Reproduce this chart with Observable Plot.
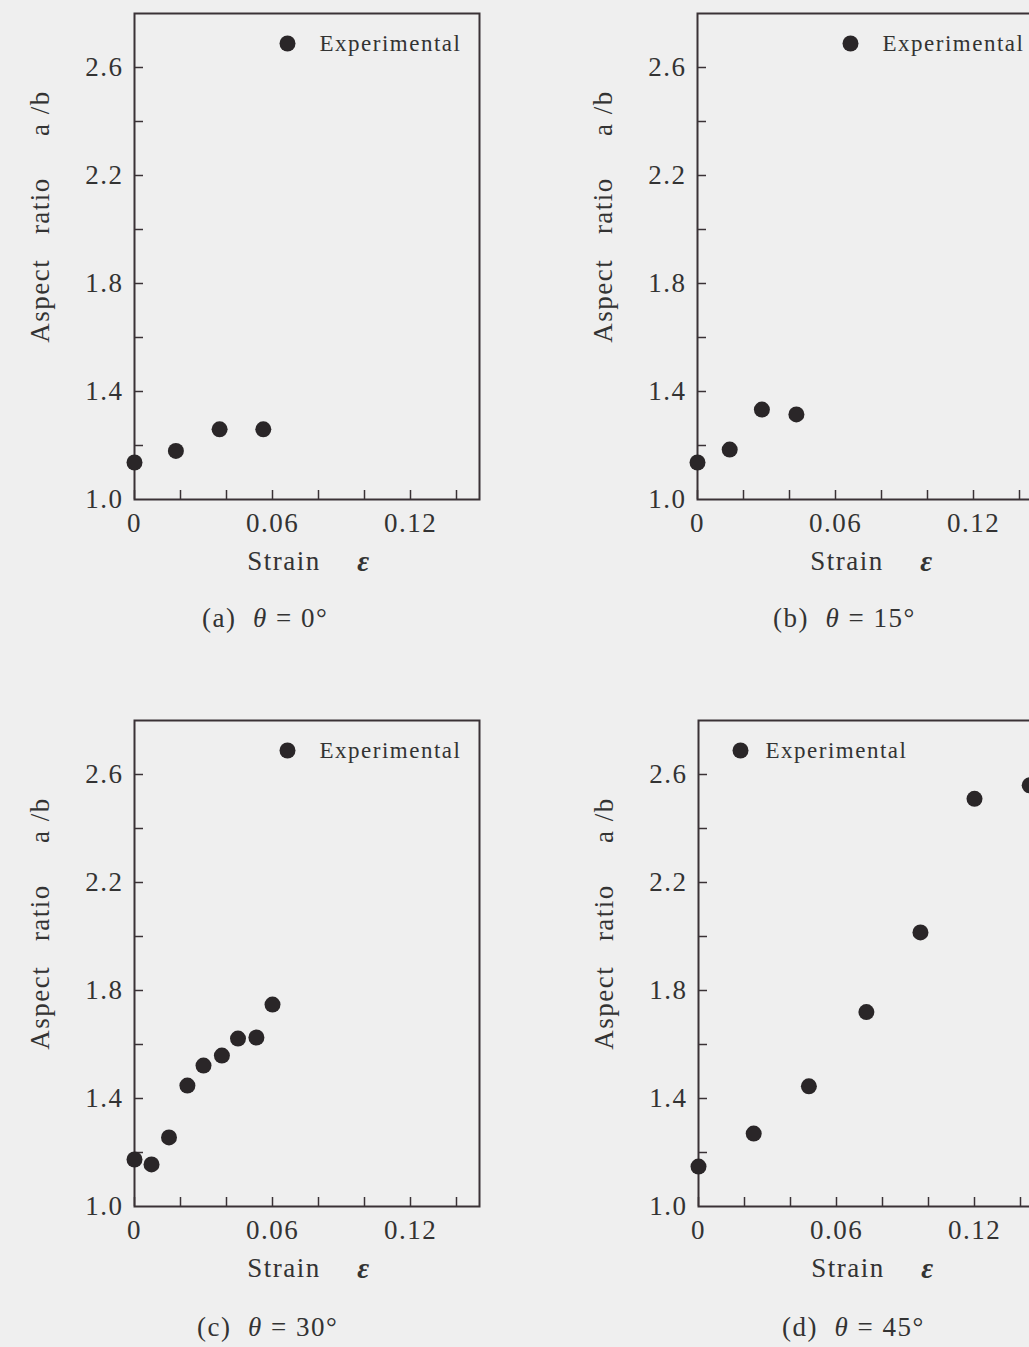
<!DOCTYPE html>
<html><head><meta charset="utf-8">
<script src="https://cdn.jsdelivr.net/npm/d3@7"></script>
<script src="https://cdn.jsdelivr.net/npm/@observablehq/plot@0.6"></script>
<style>
html,body{margin:0;padding:0;background:#efefef;}
#root{position:relative;width:1029px;height:1347px;overflow:hidden;background:#efefef;}
.panel{position:absolute;width:500px;}
.panel svg{overflow:visible;max-width:none !important;}
.cap{position:absolute;font-family:"Liberation Serif",serif;font-size:27px;color:#333;letter-spacing:1.5px;white-space:pre;line-height:1;}
</style></head><body><div id="root"></div>
<script>
// ---- data ----
const xTicks = [0, 0.02, 0.04, 0.06, 0.08, 0.10, 0.12, 0.14];
const xLabels = [0, 0.06, 0.12];
const yTicks = [1.2, 1.4, 1.6, 1.8, 2.0, 2.2, 2.4, 2.6];
const yLabels = [1.0, 1.4, 1.8, 2.2, 2.6];
const panelLetters = ["a", "b", "c", "d"];
const panelAngles = [0, 15, 30, 45];
const strainA = [0, 0.018, 0.037, 0.056];
const ratioA  = [1.137, 1.18, 1.26, 1.26];
const strainB = [0, 0.014, 0.028, 0.043];
const ratioB  = [1.137, 1.185, 1.333, 1.315];
const strainC = [0, 0.0074, 0.015, 0.023, 0.030, 0.038, 0.045, 0.053, 0.060];
const ratioC  = [1.174, 1.156, 1.256, 1.448, 1.522, 1.559, 1.622, 1.626, 1.748];
const strainD = [0, 0.024, 0.048, 0.073, 0.0965, 0.120, 0.144];
const ratioD  = [1.148, 1.27, 1.445, 1.72, 2.015, 2.51, 2.56];
const legendLabel = "Experimental";
const yAxisLabel = "Aspect\u00a0\u00a0\u00a0ratio\u00a0\u00a0\u00a0\u00a0\u00a0a\u00a0/b";
const xAxisLabel = "Strain";
const xAxisSymbol = "ε";

// ---- layout / style ----
const ink = "#3a3236";
const dotFill = "#2a2628";
const textFill = "#333";
const font = "Liberation Serif";
const W = 500, H = 560, mL = 134, mR = 21, mT = 13, mB = 61;
const frameW = W - mL - mR, frameH = H - mT - mB;

const panels = [
  {left: 0,   top: 0,   xs: strainA, ys: ratioA, legendSide: "right", cap: [202, 605]},
  {left: 563, top: 0,   xs: strainB, ys: ratioB, legendSide: "right", cap: [773, 605]},
  {left: 0,   top: 707, xs: strainC, ys: ratioC, legendSide: "right", cap: [197, 1314]},
  {left: 564, top: 707, xs: strainD, ys: ratioD, legendSide: "left",  cap: [782, 1314]}
];

const root = document.getElementById("root");
panels.forEach((p, i) => {
  const data = p.xs.map((x, j) => ({strain: x, ratio: p.ys[j]}));
  const legendDot = p.legendSide === "right"
    ? {frameAnchor: "top-right", dx: -192, dy: 30}
    : {frameAnchor: "top-left", dx: 42, dy: 30};
  const legendText = p.legendSide === "right"
    ? {frameAnchor: "top-right", dx: -160, dy: 30}
    : {frameAnchor: "top-left", dx: 67, dy: 30};
  const chart = Plot.plot({
    width: W, height: H,
    marginLeft: mL, marginRight: mR, marginTop: mT, marginBottom: mB,
    style: {background: "transparent", fontFamily: font, color: textFill},
    x: {domain: [0, 0.15], axis: null, label: null},
    y: {domain: [1.0, 2.8], axis: null, label: null},
    marks: [
      Plot.tickY(yTicks, {y: d => d, insetRight: frameW - 9, stroke: ink, strokeWidth: 1.5}),
      Plot.tickX(xTicks, {x: d => d, insetTop: frameH - 9, stroke: ink, strokeWidth: 1.5}),
      Plot.frame({stroke: ink, strokeWidth: 2}),
      Plot.axisY(yLabels, {anchor: "left", tickSize: 0, tickPadding: 11, label: null,
        tickFormat: d3.format(".1f"), fontSize: 27, fill: textFill, fontFamily: font}),
      Plot.axisX(xLabels, {anchor: "bottom", tickSize: 0, tickPadding: 13, label: null,
        tickFormat: d => d === 0 ? "0" : d3.format(".2f")(d),
        fontSize: 27, fill: textFill, fontFamily: font}),
      Plot.text([yAxisLabel], {frameAnchor: "left", dx: -94, dy: -40, rotate: -90,
        textAnchor: "middle", lineAnchor: "middle",
        fontSize: 27, fill: textFill, fontFamily: font}),
      Plot.text([xAxisLabel], {frameAnchor: "bottom", dx: -23, dy: 62,
        textAnchor: "middle", lineAnchor: "middle",
        fontSize: 27, fill: textFill, fontFamily: font}),
      Plot.text([xAxisSymbol], {frameAnchor: "bottom", dx: 57, dy: 62,
        textAnchor: "middle", lineAnchor: "middle",
        fontSize: 29, fill: textFill, fontFamily: font, fontWeight: "bold", fontStyle: "italic"}),
      Plot.dot([legendLabel], {...legendDot, r: 8, fill: dotFill, stroke: null}),
      Plot.text([legendLabel], {...legendText, textAnchor: "start", lineAnchor: "middle", fontSize: 23,
        fill: textFill, fontFamily: font}),
      Plot.dot(data, {x: "strain", y: "ratio", r: 8, fill: dotFill, stroke: null})
    ]
  });
  chart.querySelectorAll("text").forEach(t => { t.style.letterSpacing = "1.5px"; });
  const div = document.createElement("div");
  div.className = "panel";
  div.style.left = p.left + "px";
  div.style.top = p.top + "px";
  div.appendChild(chart);
  root.appendChild(div);

  const cap = document.createElement("div");
  cap.className = "cap";
  cap.style.left = p.cap[0] + "px";
  cap.style.top = p.cap[1] + "px";
  cap.innerHTML = `(${panelLetters[i]})\u00a0\u00a0<i>θ</i> = ${panelAngles[i]}°`;
  root.appendChild(cap);
});
</script>
</body></html>
